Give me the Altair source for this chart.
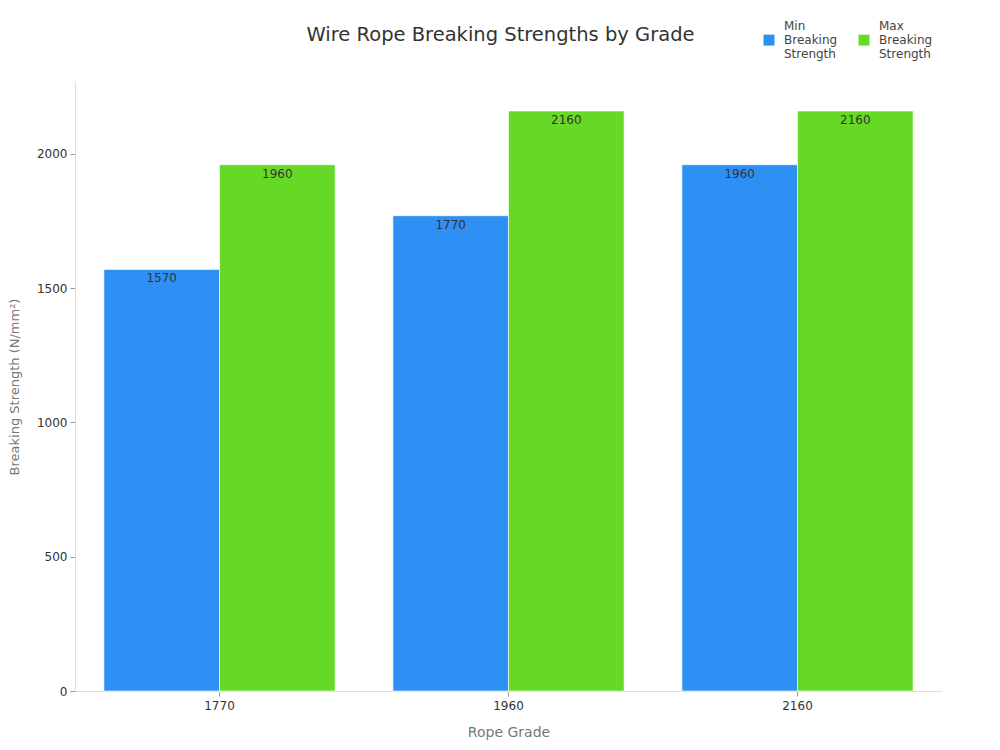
import pandas as pd
import altair as alt

grades = ["1770", "1960", "2160"]
series = ["Min Breaking Strength", "Max Breaking Strength"]
min_strength = [1570, 1770, 1960]
max_strength = [1960, 2160, 2160]
colors = ["#2E8FF5", "#66D927"]

rows = []
for g, lo, hi in zip(grades, min_strength, max_strength):
    rows.append({"grade": g, "series": series[0], "value": lo})
    rows.append({"grade": g, "series": series[1], "value": hi})
df = pd.DataFrame(rows)

FONT = "DejaVu Sans"

base = alt.Chart(df).encode(
    x=alt.X("grade:N", sort=grades, title="Rope Grade",
            scale=alt.Scale(paddingInner=0.2, paddingOuter=0.1),
            axis=alt.Axis(labelAngle=0, labelFontSize=12, labelColor="#333",
                          titleFontSize=14, titleColor="#777", titleFontWeight="normal",
                          titlePadding=14, domainColor="#ddd", tickColor="#999",
                          labelPadding=4)),
    xOffset=alt.XOffset("series:N", sort=series, scale=alt.Scale(paddingInner=0, paddingOuter=0)),
    y=alt.Y("value:Q", title="Breaking Strength (N/mm²)",
            scale=alt.Scale(domain=[0, 2268], nice=False),
            axis=alt.Axis(values=[0, 500, 1000, 1500, 2000], format="d", grid=False,
                          labelFontSize=12, labelColor="#333",
                          titleFontSize=13, titleColor="#777", titleFontWeight="normal",
                          titlePadding=15, domainColor="#ddd", tickColor="#999",
                          labelPadding=3)),
)

# square symbol nudged down so it sits beside the middle line of the label
bars = base.mark_bar(stroke="white", strokeWidth=1, strokeOpacity=0.6).encode(
    color=alt.Color("series:N", sort=series,
                    scale=alt.Scale(domain=series, range=colors),
                    legend=alt.Legend(title=None, orient="none", direction="horizontal",
                                      legendX=688, legendY=-55,
                                      labelExpr="split(datum.label, ' ')",
                                      labelBaseline="bottom",
                                      labelFontSize=12, labelColor="#444",
                                      symbolType="M-1,0.3H1V2.3H-1Z", symbolSize=120,
                                      symbolStrokeWidth=0, columnPadding=20,
                                      labelOffset=9))
)

labels = base.mark_text(baseline="top", dy=4, fontSize=12, color="#333", font=FONT).encode(
    text=alt.Text("value:Q")
)

chart = (bars + labels).properties(
    width=867,
    height=609,
    title=alt.Title("Wire Rope Breaking Strengths by Grade", fontSize=19.5,
                    fontWeight="normal", color="#333", anchor="middle", offset=0, dy=18, dx=-8),
    autosize=alt.AutoSizeParams(type="none"),
    padding={"left": 67, "top": 74, "right": 50, "bottom": 60},
).configure(font=FONT).configure_view(stroke=None)

chart.save("out.html", embed_options={"renderer": "svg", "actions": False})
